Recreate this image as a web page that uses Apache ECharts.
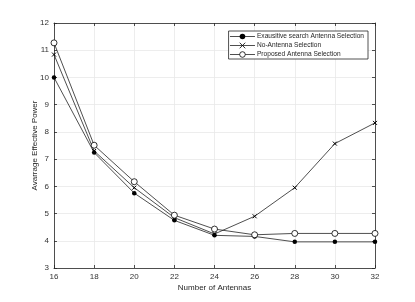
<!DOCTYPE html>
<html><head><meta charset="utf-8">
<script src="https://cdn.jsdelivr.net/npm/echarts@6/dist/echarts.min.js"></script>
<style>html,body{margin:0;padding:0;background:#fff}#c{width:415px;height:302px}</style>
</head><body><div id="c"></div>
<script>
var antennas = [16, 18, 20, 22, 24, 26, 28, 30, 32];
var exhaustive = [10.0, 7.24, 5.75, 4.75, 4.2, 4.16, 3.96, 3.96, 3.96];
var noSelection = [10.84, 7.3, 5.95, 4.85, 4.25, 4.9, 5.95, 7.57, 8.33];
var proposed = [11.27, 7.51, 6.17, 4.94, 4.43, 4.22, 4.27, 4.27, 4.27];
var xTicks = [16, 18, 20, 22, 24, 26, 28, 30, 32];
var yTicks = [3, 4, 5, 6, 7, 8, 9, 10, 11, 12];

function pairs(v){ return antennas.map(function(x,i){ return [x, v[i]]; }); }
var chart = echarts.init(document.getElementById('c'));
var font = 'Liberation Sans, Arial, sans-serif';
function axisCommon(margin){ return {
  axisLine:{show:true, lineStyle:{color:'#262626', width:0.8}},
  axisTick:{show:true, inside:true, length:3, lineStyle:{color:'#262626', width:0.8}},
  axisLabel:{color:'#333', fontSize:8, fontFamily:font, margin:margin}
};}
chart.setOption({
  animation:false,
  grid:{left:54, right:40, top:23, bottom:34},
  legend:{
    right:47, top:31, orient:'vertical', itemGap:2, itemWidth:25, itemHeight:7,
    padding:[2,4,1,1], borderColor:'#262626', borderWidth:0.8, borderRadius:0, backgroundColor:'#fff',
    lineStyle:{width:0.8},
    textStyle:{fontSize:6.6, color:'#262626', fontFamily:font, padding:[0,0,0,-3]},
    data:[
      {name:'Exausitive search Antenna Selection', itemStyle:{borderWidth:0}},
      {name:'No-Antenna Selection', itemStyle:{borderWidth:0.8}},
      {name:'Proposed Antenna Selection', itemStyle:{borderWidth:0.8}}
    ]
  },
  xAxis:[
    Object.assign({type:'value', min:16, max:32, interval:2, name:'Number of Antennas', nameLocation:'middle', nameGap:16, nameMoveOverlap:false,
      nameTextStyle:{fontSize:8, color:'#262626', fontFamily:font},
      splitLine:{show:true, lineStyle:{color:'#e8e8e8', width:0.8}}}, axisCommon(5)),
    Object.assign({type:'value', position:'top', min:16, max:32, interval:2, splitLine:{show:false}}, axisCommon(5), {axisLabel:{show:false}})
  ],
  yAxis:[
    Object.assign({type:'value', min:3, max:12, interval:1, name:'Avarrage Effective Power', nameLocation:'middle', nameGap:15, nameMoveOverlap:false,
      nameTextStyle:{fontSize:8, color:'#262626', fontFamily:font},
      splitLine:{show:true, lineStyle:{color:'#e8e8e8', width:0.8}}}, axisCommon(5)),
    Object.assign({type:'value', position:'right', min:3, max:12, interval:1, splitLine:{show:false}}, axisCommon(5), {axisLabel:{show:false}})
  ],
  series:[
    {name:'Exausitive search Antenna Selection', type:'line', data:pairs(exhaustive), symbol:'circle', symbolSize:4.5,
      lineStyle:{color:'#222', width:0.8}, itemStyle:{color:'#000'}},
    {name:'No-Antenna Selection', type:'line', data:pairs(noSelection), symbol:'path://M0,0L10,10M10,0L0,10', symbolSize:4,
      lineStyle:{color:'#222', width:0.8}, itemStyle:{color:'#000', borderColor:'#000', borderWidth:1}},
    {name:'Proposed Antenna Selection', type:'line', data:pairs(proposed), symbol:'circle', symbolSize:6,
      lineStyle:{color:'#222', width:0.8}, itemStyle:{color:'#fff', borderColor:'#000', borderWidth:0.8}}
  ]
});
</script></body></html>
